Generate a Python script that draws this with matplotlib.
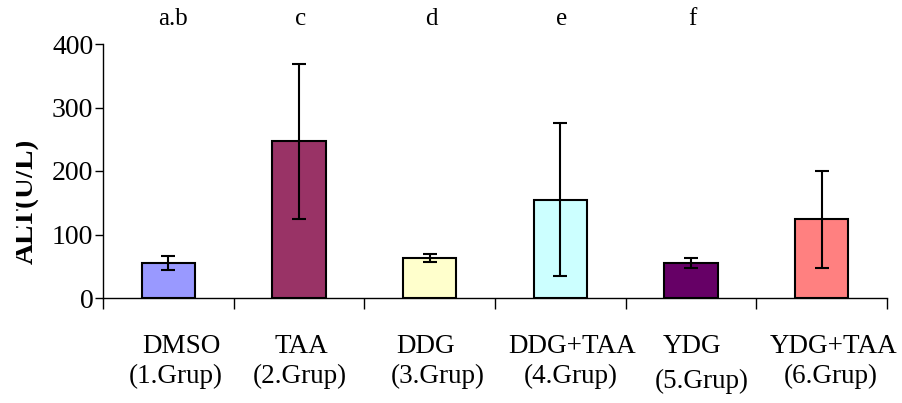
import numpy as np
import matplotlib.pyplot as plt
from matplotlib.transforms import Bbox, TransformedBbox

# ALT values per group
groups = ['DMSO', 'TAA', 'DDG', 'DDG+TAA', 'YDG', 'YDG+TAA']
subgroups = ['(1.Grup)', '(2.Grup)', '(3.Grup)', '(4.Grup)', '(5.Grup)', '(6.Grup)']
alt_mean = [55, 247, 63, 155, 55, 124]
alt_err = [11, 122, 7, 121, 8, 76]
letters = ['a.b', 'c', 'd', 'e', 'f']
colors = ['#9999FF', '#993366', '#FFFFCC', '#CCFFFF', '#660066', '#FF8080']
yticks = [0, 100, 200, 300, 400]

# small horizontal nudges of the label text, as placed in the original
name_shift = [0.10, 0.02, -0.03, 0.09, 0.01, 0.09]
sub_shift = [0.06, 0.01, 0.06, 0.08, 0.08, 0.07]

plt.rcParams['font.family'] = ['Liberation Serif', 'DejaVu Serif']

fig = plt.figure(figsize=(9.02, 4.03), dpi=100)
ax = fig.add_axes([103 / 902, 1 - 298 / 403, 784 / 902, 254 / 403])

x = np.arange(len(groups))
ax.bar(x, alt_mean, width=0.41, color=colors, edgecolor='black', linewidth=1.5, zorder=2)
ax.errorbar(x, alt_mean, yerr=alt_err, fmt='none', ecolor='black',
            elinewidth=1.5, capsize=5, capthick=1.5, zorder=3)

ax.set_xlim(-0.5, len(groups) - 0.5)
ax.set_ylim(0, 400)
ax.set_yticks(yticks)
ax.tick_params(axis='y', labelsize=20, length=6, width=1, direction='out', pad=1)

# category boundary tick marks, labels drawn as text
ax.set_xticks(np.arange(-0.5, len(groups)))
ax.set_xticklabels([])
ax.tick_params(axis='x', length=8, width=1, direction='out')

for s in ['top', 'right']:
    ax.spines[s].set_visible(False)
for s in ['left', 'bottom']:
    ax.spines[s].set_linewidth(1)

xt = ax.get_xaxis_transform()
for i, (g, sg) in enumerate(zip(groups, subgroups)):
    ax.text(i + name_shift[i], -0.19, g, transform=xt, ha='center', va='center', fontsize=19.5)
    dy = -0.31 if i != 4 else -0.33
    ax.text(i + sub_shift[i], dy, sg, transform=xt, ha='center', va='center', fontsize=19.5)

for i, lt in enumerate(letters):
    ax.text(i + (0.035 if i == 0 else 0.01), 1.1, lt, transform=xt,
            ha='center', va='center', fontsize=18)

# y label, cut at the left edge as in the original
yl = fig.text(32 / 902, 0.5, 'ALT(U/L)', rotation=90, rotation_mode='anchor',
              ha='center', va='baseline', fontsize=21, fontweight='bold')
yl.set_clip_box(TransformedBbox(Bbox([[16 / 902, 0], [1, 1]]), fig.transFigure))
yl.set_clip_on(True)

fig.savefig('out.png', dpi=100)
